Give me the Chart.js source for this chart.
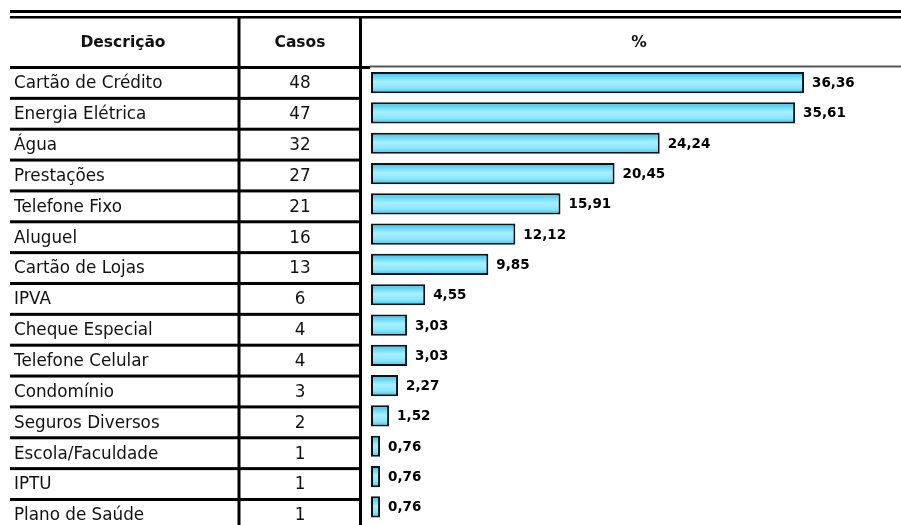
<!DOCTYPE html>
<html>
<head>
<meta charset="utf-8">
<script src="https://cdn.jsdelivr.net/npm/chart.js@4.4.1/dist/chart.umd.min.js"></script>
<style>
    html, body { margin: 0; padding: 0; background: #fff; }
    #wrap { width: 901px; height: 525px; overflow: hidden; }
</style>
</head>
<body>
<div id="wrap"><canvas id="grafico" width="901" height="525"></canvas></div>
<script>
var cabecalhos = ['Descrição', 'Casos', '%'];
var categorias = [
    'Cartão de Crédito', 'Energia Elétrica', 'Água', 'Prestações', 'Telefone Fixo',
    'Aluguel', 'Cartão de Lojas', 'IPVA', 'Cheque Especial', 'Telefone Celular',
    'Condomínio', 'Seguros Diversos', 'Escola/Faculdade', 'IPTU', 'Plano de Saúde'
];
var casos = [48, 47, 32, 27, 21, 16, 13, 6, 4, 4, 3, 2, 1, 1, 1];
var percentuais = [36.36, 35.61, 24.24, 20.45, 15.91, 12.12, 9.85, 4.55, 3.03, 3.03, 2.27, 1.52, 0.76, 0.76, 0.76];

var FONTE = '"DejaVu Sans", Verdana, sans-serif';
var ALTURA_BARRA = 21;

function formata(v) {
    return v.toFixed(2).replace('.', ',');
}

// tabela da esquerda: linhas, colunas e textos
var tabela = {
    id: 'tabela',
    beforeDatasetsDraw: function(chart) {
        var ctx = chart.ctx;
        var linhas = chart.scales.linhas;
        var topo = linhas.getPixelForValue(0);
        ctx.save();
        ctx.fillStyle = '#000';
        // linha dupla do topo
        ctx.fillRect(10, 10, 891, 3);
        ctx.fillRect(10, 16, 891, 2.5);
        // colunas
        ctx.fillRect(237.5, 18, 3, 520);
        ctx.fillRect(359, 18, 3, 520);
        // fim do cabecalho
        ctx.fillRect(10, topo - 1.5, 360, 3);
        ctx.fillStyle = '#555';
        ctx.fillRect(370, topo - 2, 531, 2);

        ctx.fillStyle = '#000';
        for (var k = 1; k <= categorias.length; k++) {
            ctx.fillRect(10, linhas.getPixelForValue(k) - 1.5, 350, 3);
        }

        ctx.textBaseline = 'middle';
        ctx.fillStyle = '#111';
        var yCab = (18 + topo) / 2;
        ctx.font = 'bold 15.5px ' + FONTE;
        ctx.textAlign = 'center';
        ctx.fillText(cabecalhos[0], 123, yCab);
        ctx.fillText(cabecalhos[1], 300, yCab);
        ctx.fillText(cabecalhos[2], 639, yCab);

        ctx.font = '16.8px ' + FONTE;
        for (var i = 0; i < categorias.length; i++) {
            var y = linhas.getPixelForValue(i + 0.5) + 1;
            ctx.textAlign = 'left';
            ctx.fillText(categorias[i], 14, y);
            ctx.textAlign = 'center';
            ctx.fillText(String(casos[i]), 300, y);
        }
        ctx.restore();
    }
};

// rotulos de valor ao lado das barras
var rotulos = {
    id: 'rotulos',
    afterDatasetsDraw: function(chart) {
        var ctx = chart.ctx;
        var meta = chart.getDatasetMeta(0);
        ctx.save();
        ctx.font = 'bold 13.5px ' + FONTE;
        ctx.fillStyle = '#000';
        ctx.textAlign = 'left';
        ctx.textBaseline = 'middle';
        meta.data.forEach(function(bar, i) {
            ctx.fillText(formata(percentuais[i]), bar.x + 8, bar.y + 1);
        });
        ctx.restore();
    }
};

function gradiente(context) {
    var chart = context.chart;
    if (!chart.chartArea || context.type !== 'data') {
        return '#6fdcfb';
    }
    var y = chart.scales.y.getPixelForValue(context.dataIndex);
    var g = chart.ctx.createLinearGradient(0, y - ALTURA_BARRA / 2, 0, y + ALTURA_BARRA / 2);
    g.addColorStop(0, '#2fc2ef');
    g.addColorStop(0.45, '#a8f0ff');
    g.addColorStop(0.75, '#8ae6ff');
    g.addColorStop(1, '#33c4f0');
    return g;
}

var chart = new Chart(document.getElementById('grafico'), {
    type: 'bar',
    data: {
        labels: categorias,
        datasets: [{
            data: percentuais,
            backgroundColor: gradiente,
            borderColor: '#111',
            borderWidth: 2,
            borderSkipped: false,
            barPercentage: 0.7,
            categoryPercentage: 1
        }]
    },
    options: {
        indexAxis: 'y',
        responsive: false,
        animation: false,
        devicePixelRatio: 1,
        layout: { padding: { left: 371, top: 67.5, right: 0, bottom: 3 } },
        scales: {
            x: { display: false, min: 0, max: 44.5 },
            y: { display: false },
            linhas: {
                type: 'linear', axis: 'y', display: false, reverse: true,
                offset: false, grace: 0, min: 0, max: 14.73
            }
        },
        plugins: {
            legend: { display: false },
            tooltip: { enabled: false }
        }
    },
    plugins: [tabela, rotulos]
});
</script>
</body>
</html>
